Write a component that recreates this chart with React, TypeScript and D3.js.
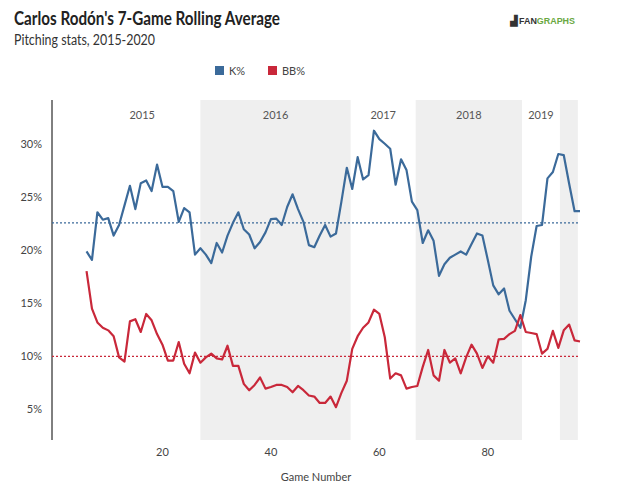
import React from "react";
import * as d3 from "d3";

const kPct = [19.9,19.1,23.6,22.9,23.05,21.4,22.4,24.25,26.1,23.9,26.35,26.6,25.6,28.1,26.0,26.0,25.6,22.7,24.0,23.6,19.6,20.2,19.6,18.8,20.7,19.8,21.4,22.6,23.6,22.0,21.5,20.2,20.8,21.7,22.95,23.0,22.4,24.1,25.3,23.9,22.7,20.5,20.3,21.4,22.4,21.3,21.6,24.6,27.8,25.8,28.8,26.7,27.1,31.3,30.5,30.07,29.6,26.2,28.6,27.6,24.6,23.8,20.7,21.9,20.9,17.6,18.7,19.3,19.6,19.9,19.6,20.6,21.6,21.4,19.1,16.7,15.85,16.4,14.3,13.5,12.7,15.3,19.4,22.3,22.4,26.8,27.4,29.1,29.0,26.3,23.7,23.7];
const bbPct = [18.05,14.5,13.2,12.7,12.45,11.9,9.9,9.5,13.3,13.5,12.3,14.0,13.4,12.1,11.1,9.6,9.6,11.35,9.3,8.4,10.35,9.4,9.9,10.25,9.8,9.7,11.0,9.1,9.1,7.4,6.8,7.3,8.0,6.95,7.1,7.3,7.3,7.1,6.6,7.2,6.8,6.3,6.2,5.6,5.6,6.2,5.2,6.55,7.7,10.7,11.9,12.7,13.2,14.4,14.0,11.8,7.9,8.4,8.2,6.95,7.1,7.2,9.0,10.6,8.2,7.7,10.6,9.4,9.8,8.4,9.9,11.1,10.25,8.9,10.0,9.4,11.6,11.65,12.1,12.4,13.9,12.3,12.2,12.1,10.25,10.7,12.4,10.8,12.45,13.0,11.5,11.4];
const firstGame = 6;
const kAvg = 22.6;
const bbAvg = 10.0;
const seasons = [
  { year: "2015", start: 0, end: 27, shade: false },
  { year: "2016", start: 27, end: 54.7, shade: true },
  { year: "2017", start: 54.7, end: 66.7, shade: false },
  { year: "2018", start: 66.7, end: 86.3, shade: true },
  { year: "2019", start: 86.3, end: 93.3, shade: false },
  { year: "", start: 93.3, end: 96.6, shade: true },
];
const xTicks = [20, 40, 60, 80];
const yTicks = [5, 10, 15, 20, 25, 30];

const BLUE = "#3b6a9a";
const RED = "#c9283a";
const FONT = "Lato, 'Open Sans', sans-serif";

export default function App() {
  const W = 619, H = 502;
  const top = 100, bottom = 440, left = 52, right = 580;
  const x = d3.scaleLinear().domain([0, 97]).range([left + 2, right]);
  const y = d3.scaleLinear().domain([2.1, 34.2]).range([bottom, top]);
  const line = d3.line<number>().x((_, i) => x(firstGame + i)).y((d) => y(d));
  return (
    <svg width={W} height={H} style={{ position: "absolute", left: 0, top: 0, fontFamily: FONT }}>
      <rect width={W} height={H} fill="#fff" />
      <text x={14} y={25} fontSize={18} fontWeight={700} fill="#222" textLength={266} lengthAdjust="spacingAndGlyphs">Carlos Rodón's 7-Game Rolling Average</text>
      <text x={14} y={45} fontSize={14.5} fill="#333" textLength={141} lengthAdjust="spacingAndGlyphs">Pitching stats, 2015-2020</text>
      <g transform="translate(510,24)">
        <text x={0} y={0} fontSize={10} fontWeight={900} fill="#333" fontFamily="'DejaVu Sans', sans-serif">▟</text>
        <text x={9} y={0} fontSize={9.5} fontWeight={900} fill="#333" fontFamily="'Liberation Sans', sans-serif" textLength={56} lengthAdjust="spacingAndGlyphs">FAN<tspan fill="#6aa842">GRAPHS</tspan></text>
      </g>
      <rect x={215} y={66} width={9} height={9} fill={BLUE} />
      <text x={229} y={75} fontSize={11} fill="#444">K%</text>
      <rect x={268} y={66} width={9} height={9} fill={RED} />
      <text x={282} y={75} fontSize={11} fill="#444">BB%</text>
      {seasons.map((s) => (
        <g key={s.start}>
          {s.shade && <rect x={x(s.start)} y={top} width={x(s.end) - x(s.start)} height={bottom - top} fill="#efefef" />}
          <text x={(x(s.start) + x(s.end)) / 2 + (s.year === "2015" ? 15 : 0)} y={119} fontSize={11} fill="#555" textAnchor="middle">{s.year}</text>
        </g>
      ))}
      <line x1={left} x2={left} y1={top} y2={bottom} stroke="#000" strokeWidth={1} />
      {yTicks.map((t) => (
        <text key={t} x={left - 10} y={y(t) + 4} fontSize={11} fill="#444" textAnchor="end">{t}%</text>
      ))}
      {xTicks.map((t) => (
        <text key={t} x={x(t)} y={456} fontSize={11} fill="#444" textAnchor="middle">{t}</text>
      ))}
      <text x={(left + right) / 2} y={481} fontSize={11} fill="#444" textAnchor="middle">Game Number</text>
      <line x1={left} x2={right} y1={y(kAvg)} y2={y(kAvg)} stroke={BLUE} strokeWidth={1.3} strokeDasharray="2,2" />
      <line x1={left} x2={right} y1={y(bbAvg)} y2={y(bbAvg)} stroke={RED} strokeWidth={1.3} strokeDasharray="2,2" />
      <path d={line(kPct) || ""} fill="none" stroke={BLUE} strokeWidth={2.2} strokeLinejoin="round" />
      <path d={line(bbPct) || ""} fill="none" stroke={RED} strokeWidth={2.2} strokeLinejoin="round" />
    </svg>
  );
}
